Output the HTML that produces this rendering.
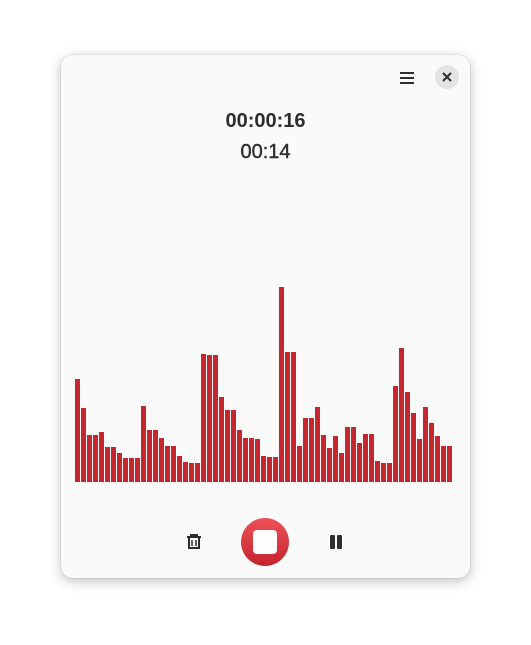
<!DOCTYPE html>
<html><head><meta charset="utf-8"><style>
html,body{margin:0;padding:0;background:#fff;width:531px;height:645px;overflow:hidden;font-family:"Liberation Sans",sans-serif}
#win{position:absolute;left:61px;top:55px;width:409px;height:523px;background:#fafafa;border-radius:12px;box-shadow:0 3px 12px rgba(0,0,0,.25),0 0 0 1px rgba(0,0,0,.05)}
</style></head><body>
<div id="win"></div>
<svg width="531" height="645" style="position:absolute;left:0;top:0">
<defs><linearGradient id="g" x1="0" y1="0" x2="0" y2="1"><stop offset="0" stop-color="#ed5257"/><stop offset="1" stop-color="#c6232f"/></linearGradient></defs>
<g fill="#2e2e2e"><rect x="400" y="72" width="14" height="2"/><rect x="400" y="77" width="14" height="2"/><rect x="400" y="82" width="14" height="2"/></g>
<g><circle cx="447" cy="77" r="12" fill="#e3e3e3"/><path d="M443 73L451 81M451 73L443 81" stroke="#2e2e2e" stroke-width="2"/></g>
<text x="265.5" y="127" text-anchor="middle" font-size="20" font-weight="bold" fill="#2e2e2e">00:00:16</text>
<text x="265.5" y="158" text-anchor="middle" font-size="20" fill="#2e2e2e" stroke="#2e2e2e" stroke-width="0.4">00:14</text>
<g id="bars"></g>
<g fill="none" stroke="#2e2e2e" stroke-width="2"><path d="M187 537H201M191 537V535H197V537"/><path d="M189 537V548H199V537"/><path d="M192 540V546M196 540V546" stroke-width="1.5"/></g>
<g><circle cx="265" cy="542" r="24" fill="url(#g)"/><rect x="253" y="530" width="24" height="24" rx="4" fill="#fff"/></g>
<g fill="#2e2e2e"><rect x="330" y="535" width="5" height="14" rx="1"/><rect x="337" y="535" width="5" height="14" rx="1"/></g>
</svg>
<script>
const levels=[103,74,47,47,50,35,35,29,24,24,24,76,52,52,44,36,36,26,20,19,19,128,127,127,85,72,72,52,44,44,43,26,25,25,195,130,130,36,64,64,75,47,34,46,29,55,55,39,48,48,21,19,19,96,134,90,69,43,75,59,46,36,36];
const g=document.getElementById('bars');
const x0=75,pitch=6,base=482;
levels.forEach((v,i)=>{
 const r=document.createElementNS('http://www.w3.org/2000/svg','rect');
 r.setAttribute('x',x0+i*pitch);r.setAttribute('y',base-v);r.setAttribute('width',5);r.setAttribute('height',v);r.setAttribute('fill','#c6262e');
 
 
 g.appendChild(r);
});
</script>
</body></html>
